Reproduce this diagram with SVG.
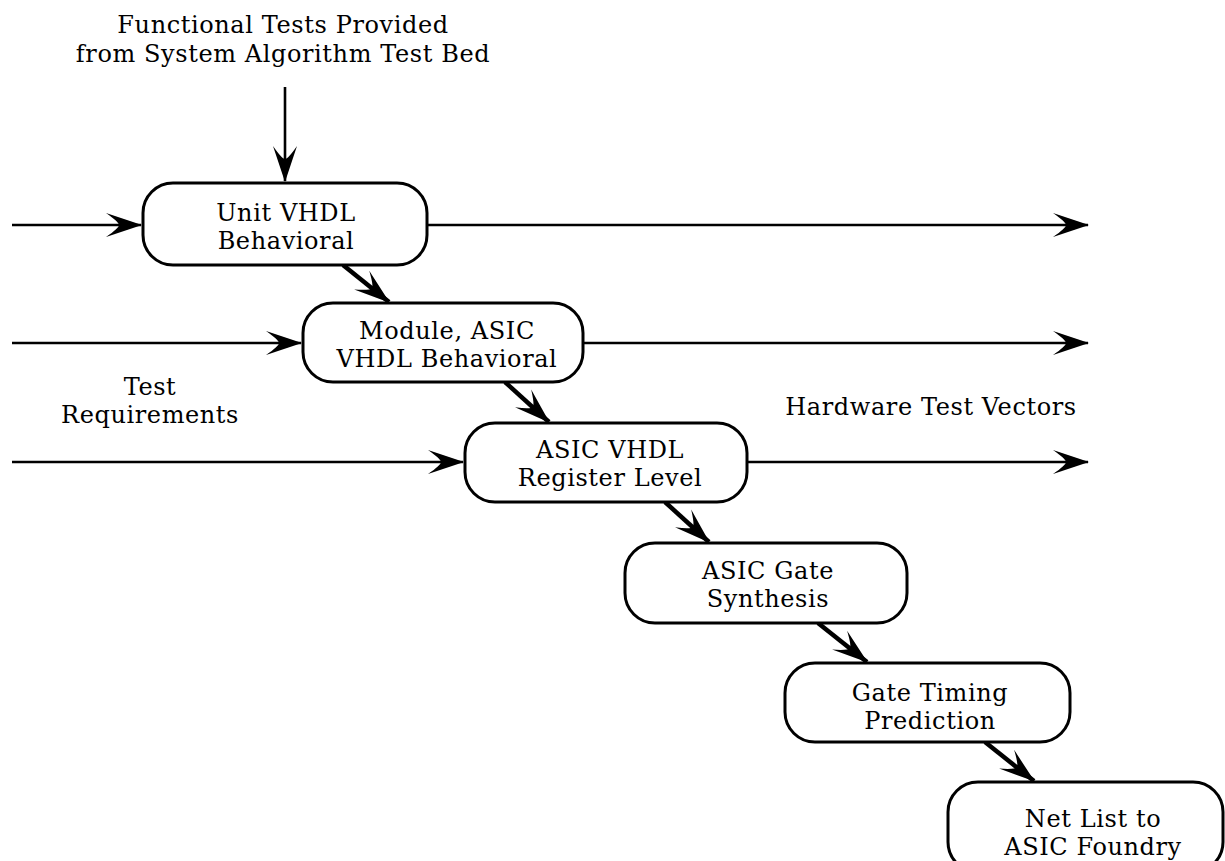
<svg xmlns="http://www.w3.org/2000/svg" width="1225" height="861" viewBox="0 0 1225 861">
<style>
  .box { fill: #fff; stroke: #000; stroke-width: 3; }
  .t { font-family: "DejaVu Serif", "Liberation Serif", serif; font-size: 24px; letter-spacing: 0.6px; fill: #000; text-anchor: middle; }
  .ln { stroke: #000; stroke-width: 2.6; fill: none; marker-end: url(#ah); }
  .dg { stroke: #000; stroke-width: 4.5; fill: none; marker-end: url(#ah); }
</style>
<defs>
  <marker id="ah" markerUnits="userSpaceOnUse" orient="auto" viewBox="-38 -14 40 28" refX="0" refY="0" markerWidth="40" markerHeight="28" overflow="visible">
    <path d="M1,0 L-35,-12 Q-22,-3 -22,0 Q-22,3 -35,12 Z" fill="#000"/>
  </marker>
</defs>
<rect width="1225" height="861" fill="#fff"/>
<g id="labels">
  <text class="t" x="283" y="33">Functional Tests Provided</text>
  <text class="t" x="283" y="62">from System Algorithm Test Bed</text>
  <text class="t" x="150" y="395">Test</text>
  <text class="t" x="150" y="423">Requirements</text>
  <text class="t" x="931" y="415">Hardware Test Vectors</text>
</g>
<g id="connectors">
  <line class="ln" x1="285" y1="87" x2="285" y2="181"/>
  <line class="ln" x1="12" y1="225" x2="141" y2="225"/>
  <line class="ln" x1="427" y1="225" x2="1088" y2="225"/>
  <line class="ln" x1="12" y1="343" x2="301" y2="343"/>
  <line class="ln" x1="583" y1="343" x2="1088" y2="343"/>
  <line class="ln" x1="12" y1="462" x2="463" y2="462"/>
  <line class="ln" x1="747" y1="462" x2="1088" y2="462"/>
  <line class="dg" x1="343" y1="265" x2="389" y2="302"/>
  <line class="dg" x1="505" y1="382" x2="549" y2="422"/>
  <line class="dg" x1="665" y1="502" x2="709" y2="542"/>
  <line class="dg" x1="818" y1="623" x2="867" y2="662"/>
  <line class="dg" x1="985" y1="742" x2="1034" y2="781"/>
</g>
<g id="n1">
  <rect class="box" x="143" y="183" width="284" height="82" rx="30" ry="30"/>
  <text class="t" x="286" y="221">Unit VHDL</text>
  <text class="t" x="286" y="249">Behavioral</text>
</g>
<g id="n2">
  <rect class="box" x="303" y="303" width="280" height="79" rx="30" ry="30"/>
  <text class="t" x="447" y="339">Module, ASIC</text>
  <text class="t" x="447" y="367">VHDL Behavioral</text>
</g>
<g id="n3">
  <rect class="box" x="465" y="423" width="282" height="79" rx="30" ry="30"/>
  <text class="t" x="610" y="458">ASIC VHDL</text>
  <text class="t" x="610" y="486">Register Level</text>
</g>
<g id="n4">
  <rect class="box" x="625" y="543" width="282" height="80" rx="30" ry="30"/>
  <text class="t" x="768" y="579">ASIC Gate</text>
  <text class="t" x="768" y="607">Synthesis</text>
</g>
<g id="n5">
  <rect class="box" x="785" y="663" width="285" height="79" rx="30" ry="30"/>
  <text class="t" x="930" y="701">Gate Timing</text>
  <text class="t" x="930" y="729">Prediction</text>
</g>
<g id="n6">
  <rect class="box" x="948" y="782" width="275" height="90" rx="30" ry="30"/>
  <text class="t" x="1093" y="827">Net List to</text>
  <text class="t" x="1093" y="855">ASIC Foundry</text>
</g>
</svg>
